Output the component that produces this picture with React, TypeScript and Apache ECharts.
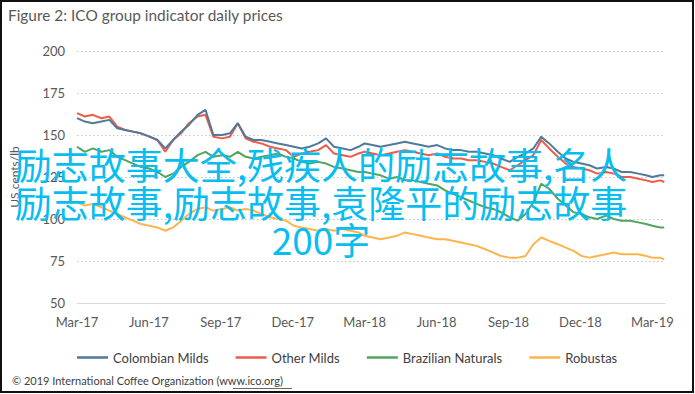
import React, { useEffect, useRef } from "react";
import * as echarts from "echarts";

const dates = [
  "2017-03-01", "2017-03-11", "2017-03-21", "2017-04-01", "2017-04-11", "2017-04-21",
  "2017-05-01", "2017-05-11", "2017-05-21", "2017-06-01", "2017-06-11", "2017-06-21",
  "2017-07-01", "2017-07-11", "2017-07-21", "2017-08-01", "2017-08-11", "2017-08-21",
  "2017-09-01", "2017-09-11", "2017-09-21", "2017-10-01", "2017-10-11", "2017-10-21",
  "2017-11-01", "2017-11-11", "2017-11-21", "2017-12-01", "2017-12-11", "2017-12-21",
  "2018-01-01", "2018-01-11", "2018-01-21", "2018-02-01", "2018-02-11", "2018-02-21",
  "2018-03-01", "2018-03-11", "2018-03-21", "2018-04-01", "2018-04-11", "2018-04-21",
  "2018-05-01", "2018-05-11", "2018-05-21", "2018-06-01", "2018-06-11", "2018-06-21",
  "2018-07-01", "2018-07-11", "2018-07-21", "2018-08-01", "2018-08-11", "2018-08-21",
  "2018-09-01", "2018-09-11", "2018-09-21", "2018-10-01", "2018-10-11", "2018-10-21",
  "2018-11-01", "2018-11-11", "2018-11-21", "2018-12-01", "2018-12-11", "2018-12-21",
  "2019-01-01", "2019-01-11", "2019-01-21", "2019-02-01", "2019-02-11", "2019-02-21",
  "2019-03-01", "2019-03-11", "2019-03-16",
];

const colombianMilds = [
  160, 158, 157, 158, 159, 154, 153, 152, 151, 149, 147, 142,
  147, 152, 156, 162, 165, 150, 150, 151, 157, 149, 147, 147,
  146, 145, 144, 143, 142, 143, 145, 148, 143, 142, 141, 143,
  145, 144, 143, 144, 145, 146, 145, 144, 143, 144, 142, 141,
  141, 140, 140, 139, 138, 136, 134, 137, 139, 142, 149, 145,
  140, 136, 134, 133, 132, 130, 131, 130, 128, 128, 127, 126,
  125, 126, 126,
];

const otherMilds = [
  163, 161, 162, 160, 161, 155, 153, 152, 151, 149, 147, 140,
  147, 151, 157, 161, 162, 149, 148, 149, 157, 148, 146, 145,
  143, 142, 141, 137, 139, 140, 141, 144, 139, 138, 137, 139,
  140, 139, 138, 139, 140, 141, 140, 139, 138, 139, 137, 136,
  136, 135, 135, 134, 133, 131, 129, 132, 135, 138, 147, 142,
  137, 133, 131, 130, 129, 127, 128, 127, 125, 125, 124, 123,
  122, 123, 122,
];

const brazilianNaturals = [
  143, 140, 142, 140, 141, 137, 135, 133, 131, 130, 128, 125,
  127, 131, 134, 138, 140, 137, 138, 137, 140, 137, 136, 137,
  138, 139, 137, 136, 134, 133, 134, 133, 131, 130, 129, 128,
  128, 127, 126, 124, 125, 123, 123, 122, 121, 120, 117, 115,
  113, 111, 109, 107, 106, 104, 101, 99, 103, 110, 121, 118,
  112, 108, 104, 103, 101, 100, 102, 100, 99, 99, 98, 97,
  96, 95, 95,
];

const robustas = [
  110, 108, 109, 107, 105, 103, 101, 99, 97, 96, 95, 93,
  95, 99, 103, 106, 107, 105, 106, 107, 105, 106, 105, 103,
  101, 100, 99, 96, 95, 94, 93, 94, 93, 94, 93, 92,
  90, 89, 88, 89, 90, 92, 91, 90, 89, 88, 88, 87,
  86, 85, 84, 82, 80, 78, 77, 77, 78, 85, 89, 87,
  85, 83, 81, 78, 77, 78, 79, 80, 79, 79, 79, 78,
  77, 77, 76,
];

const quarterLabels = [
  "Mar-17", "Jun-17", "Sep-17", "Dec-17", "Mar-18", "Jun-18", "Sep-18", "Dec-18", "Mar-19",
];

const seriesNames = ["Colombian Milds", "Other Milds", "Brazilian Naturals", "Robustas"];
const seriesColors = ["#4F7A9A", "#EE5B4A", "#52A35E", "#FDB44B"];

const overlayText =
  "励志故事大全,残疾人的励志故事,名人\n励志故事,励志故事,袁隆平的励志故事\n200字";

const DAY = 86400000;
const START = Date.parse("2017-03-01");
const QUARTER = 91.25;
const toDay = (d: string) => (Date.parse(d) - START) / DAY;
const pairs = (vals: number[]) => vals.map((v, i) => [toDay(dates[i]), v]);

export default function App() {
  const ref = useRef<HTMLDivElement>(null);
  useEffect(() => {
    document.body.style.margin = "0";
    const chart = echarts.init(ref.current!, null, { renderer: "svg" });
    const allSeries = [colombianMilds, otherMilds, brazilianNaturals, robustas];
    chart.setOption({
      animation: false,
      backgroundColor: "#ffffff",
      textStyle: { fontFamily: "Lato" },
      grid: { left: 77, right: 30, top: 51, bottom: 91 },
      xAxis: {
        type: "value",
        min: 0,
        max: 746,
        interval: QUARTER,
        axisLine: { show: true, lineStyle: { color: "#d9d9d9", width: 1 } },
        axisTick: { show: false },
        splitLine: { show: false },
        axisLabel: {
          color: "#595959",
          fontSize: 13,
          margin: 12,
          showMaxLabel: false,
          formatter: (v: number) => {
            const q = v / QUARTER;
            const r = Math.round(q);
            if (Math.abs(q - r) > 0.01) return "";
            return quarterLabels[r] ?? "";
          },
        },
      },
      yAxis: {
        type: "value",
        min: 50,
        max: 200,
        interval: 25,
        name: "US cents/lb",
        nameLocation: "middle",
        nameGap: 57,
        nameRotate: 90,
        nameTextStyle: { color: "#595959", fontSize: 12 },
        axisLine: { show: false },
        axisTick: { show: false },
        axisLabel: { color: "#595959", fontSize: 13, margin: 12 },
        splitLine: { lineStyle: { color: "#c4c4c4", type: [1.5, 2.5], width: 1 } },
      },
      legend: {
        left: 72,
        top: 346,
        icon: "rect",
        itemWidth: 31,
        itemHeight: 2.5,
        itemGap: 27,
        textStyle: { color: "#404040", fontSize: 13 },
        data: seriesNames,
      },
      series: allSeries.map((vals, i) => ({
        name: seriesNames[i],
        type: "line",
        data: pairs(vals),
        showSymbol: false,
        symbol: "none",
        color: seriesColors[i],
        lineStyle: { width: 2, color: seriesColors[i] },
        z: 2 + (3 - i),
      })),
      graphic: [
        {
          type: "text",
          x: 8,
          y: 7,
          style: {
            text: "Figure 2: ICO group indicator daily prices",
            fontSize: 15.4,
            fontFamily: "Lato",
            fill: "#595959",
          },
        },
        {
          type: "text",
          x: 12,
          y: 375,
          style: {
            text: "© 2019 International Coffee Organization (www.ico.org)",
            fontSize: 11,
            fontFamily: "Lato",
            fill: "#404040",
          },
        },
        {
          type: "line",
          shape: { x1: 233, y1: 388.5, x2: 292, y2: 388.5 },
          style: { stroke: "#404040", lineWidth: 0.8 },
        },
        {
          type: "text",
          x: 321,
          y: 201.5,
          z: 100,
          style: {
            text: overlayText,
            fontSize: 37,
            lineHeight: 37.5,
            fontFamily: "Noto Sans CJK SC",
            fill: "#08BDF0",
            textAlign: "center",
            textVerticalAlign: "middle",
          },
        },
        {
          type: "rect",
          z: 100,
          shape: { x: 1, y: 1, width: 692, height: 391 },
          style: { fill: "none", stroke: "#111111", lineWidth: 2 },
        },
      ],
    });
    return () => chart.dispose();
  }, []);
  return <div ref={ref} style={{ width: 695, height: 394 }} />;
}
